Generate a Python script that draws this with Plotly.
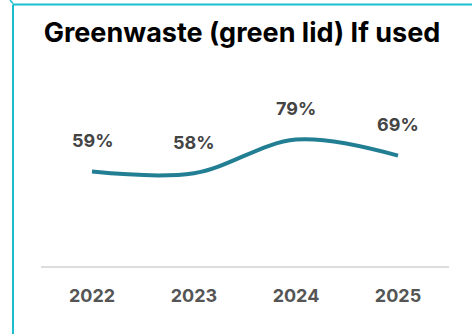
import plotly.graph_objects as go

years = [2022, 2023, 2024, 2025]
values = [59, 58, 79, 69]
labels = ["59%", "58%", "79%", "69%"]
tick_labels = ["2022", "2023", "2024", "2025"]
title_text = "Greenwaste (green lid) If used"

line_color = "#217E93"
border_color = "#1BBDCF"

fig = go.Figure()
fig.add_trace(go.Scatter(
    x=years, y=values, mode="lines",
    line=dict(color=line_color, width=4, shape="spline", smoothing=1.0),
    hoverinfo="skip",
))

for x, y, t in zip(years, values, labels):
    fig.add_annotation(x=x, y=y, xref="x", yref="y", text="<b>" + t + "</b>", showarrow=False,
                       yshift=31,
                       font=dict(family="Inter", size=18, color="#444444"))

fig.update_layout(
    width=472, height=334,
    margin=dict(l=41, r=23, t=106, b=68),
    paper_bgcolor="white", plot_bgcolor="white",
    showlegend=False,
    title=dict(text="<b>" + title_text + "</b>", x=242/472, xanchor="center", xref="container",
               y=1 - 33/334, yanchor="middle", yref="container",
               font=dict(family="Inter", size=27, color="#000000")),
    xaxis=dict(showgrid=False, showline=True, linecolor="#DDDDDD", linewidth=2,
               ticks="", ticklabelstandoff=12, zeroline=False,
               tickmode="array", tickvals=years, ticktext=tick_labels,
               tickfont=dict(family="Inter", size=18, color="#555555", weight="bold"),
               range=[2021.5, 2025.5], fixedrange=True),
    yaxis=dict(range=[0, 100], showgrid=False, zeroline=False, showline=False,
               showticklabels=False, ticks="", fixedrange=True),
    shapes=[
        dict(type="line", xref="paper", yref="paper",
             x0=-(41-13)/408, x1=(472-41)/408, y0=1 + (106-4.5)/160, y1=1 + (106-4.5)/160,
             line=dict(color=border_color, width=2)),
        dict(type="line", xref="paper", yref="paper",
             x0=-(41-13)/408, x1=-(41-13)/408, y0=1 + (106-4.5)/160, y1=-68/160,
             line=dict(color=border_color, width=2)),
        dict(type="line", xref="paper", yref="paper",
             x0=-(41-10)/408, x1=-(41-13)/408, y0=1 + (106-0)/160, y1=1 + (106-3.5)/160,
             line=dict(color=border_color, width=1.5)),
    ],
)

fig.write_html("out.html", config={"displayModeBar": False},
               post_script="document.body.style.margin='0';")
